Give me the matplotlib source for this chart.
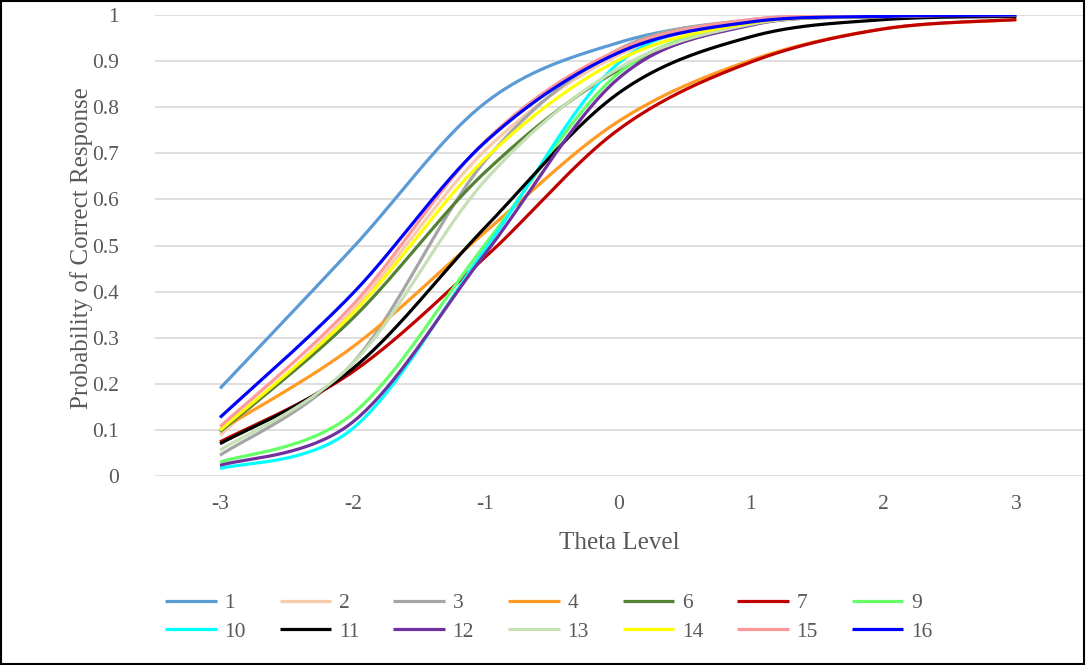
import numpy as np
import matplotlib
matplotlib.use("Agg")
import matplotlib.pyplot as plt
from matplotlib.patches import Rectangle

plt.rcParams["font.family"] = ["Liberation Serif", "DejaVu Serif"]

theta = [-3, -2, -1, 0, 1, 2, 3]

items = ["1", "2", "3", "4", "6", "7", "9", "10", "11", "12", "13", "14", "15", "16"]

colors = ["#5B9BD5", "#F8CBAD", "#A5A5A5", "#FF9A22", "#548235", "#C00000", "#66FF66",
          "#00FFFF", "#000000", "#7030A0", "#C5E0B4", "#FFFF00", "#FF9999", "#0000FF"]

p1 = [0.19, 0.495, 0.81, 0.94, 0.988, 0.997, 1.0]
p2 = [0.088, 0.36, 0.707, 0.913, 0.987, 0.998, 1.0]
p3 = [0.045, 0.245, 0.685, 0.925, 0.99, 0.998, 1.0]
p4 = [0.10, 0.28, 0.53, 0.769, 0.902, 0.97, 0.99]
p6 = [0.096, 0.342, 0.66, 0.88, 0.98, 0.997, 1.0]
p7 = [0.074, 0.226, 0.475, 0.751, 0.898, 0.97, 0.99]
p9 = [0.03, 0.135, 0.503, 0.873, 0.98, 0.997, 1.0]
p10 = [0.016, 0.103, 0.493, 0.895, 0.985, 0.998, 1.0]
p11 = [0.07, 0.233, 0.54, 0.83, 0.953, 0.99, 0.997]
p12 = [0.023, 0.117, 0.483, 0.862, 0.978, 0.996, 0.999]
p13 = [0.056, 0.244, 0.642, 0.884, 0.98, 0.997, 1.0]
p14 = [0.099, 0.353, 0.689, 0.902, 0.983, 0.997, 1.0]
p15 = [0.107, 0.371, 0.727, 0.924, 0.99, 0.998, 1.0]
p16 = [0.127, 0.396, 0.725, 0.918, 0.985, 0.997, 1.0]

series = [p1, p2, p3, p4, p6, p7, p9, p10, p11, p12, p13, p14, p15, p16]


def smooth(xs, ys, n=40):
    # excel-like smoothed line: cubic bezier with catmull-rom control points
    pts = np.column_stack([np.asarray(xs, float), np.asarray(ys, float)])
    out = []
    t = np.linspace(0, 1, n)[:, None]
    for i in range(len(pts) - 1):
        p0 = pts[i - 1] if i > 0 else pts[i]
        pa = pts[i]
        pb = pts[i + 1]
        p3 = pts[i + 2] if i + 2 < len(pts) else pts[i + 1]
        c1 = pa + (pb - p0) / 6
        c2 = pb - (p3 - pa) / 6
        seg = (1 - t) ** 3 * pa + 3 * (1 - t) ** 2 * t * c1 + 3 * (1 - t) * t ** 2 * c2 + t ** 3 * pb
        out.append(seg if i == 0 else seg[1:])
    out = np.vstack(out)
    return out[:, 0], out[:, 1]


fig = plt.figure(figsize=(10.86, 6.65), dpi=100)
ax = fig.add_axes([0.1427, 0.2842, 0.8543, 0.6932])

lines = []
for name, vals, c in zip(items, series, colors):
    sx, sy = smooth(theta, vals)
    ln, = ax.plot(sx, sy, color=c, lw=2.3, label=name, solid_capstyle="butt")
    lines.append(ln)

ax.set_xlim(-3.49, 3.5)
ax.set_ylim(0, 1)
ax.set_xticks(theta)
ax.set_xticklabels(["-3", "-2", "-1", "0", "1", "2", "3"])
ax.set_yticks(np.arange(0, 1.01, 0.1))
ax.set_yticklabels(["0", "0.1", "0.2", "0.3", "0.4", "0.5", "0.6", "0.7", "0.8", "0.9", "1"])
ax.grid(axis="y", color="#D9D9D9", lw=1.2)
ax.set_axisbelow(True)
for s in ax.spines.values():
    s.set_visible(False)
ax.tick_params(axis="both", length=0, labelsize=15.5, colors="#595959")
ax.tick_params(axis="y", pad=26)
ax.tick_params(axis="x", pad=14)

fig.text(619 / 1086, 1 - 543 / 665, "Theta Level", fontsize=18, color="#595959",
         ha="center", va="center")
fig.text(82 / 1086, 1 - 248 / 665, "Probability of Correct Response", fontsize=18,
         color="#595959", ha="center", va="center", rotation=90)

# legend fills row by row like the original
order = []
for k in range(7):
    order += [k, k + 7]
fig.legend([lines[i] for i in order], [items[i] for i in order],
           loc="upper left", bbox_to_anchor=(165 / 1086, 1 - 593 / 665), ncol=7,
           frameon=False, borderpad=0, borderaxespad=0,
           fontsize=15.5, handlelength=2.4, handletextpad=0.35, columnspacing=1.58,
           labelspacing=0.4, labelcolor="#595959")

fig.add_artist(Rectangle((0.001, 0.002), 0.997, 0.996, transform=fig.transFigure,
                         fill=False, edgecolor="black", lw=1.5))

fig.savefig("out.png", dpi=100)
